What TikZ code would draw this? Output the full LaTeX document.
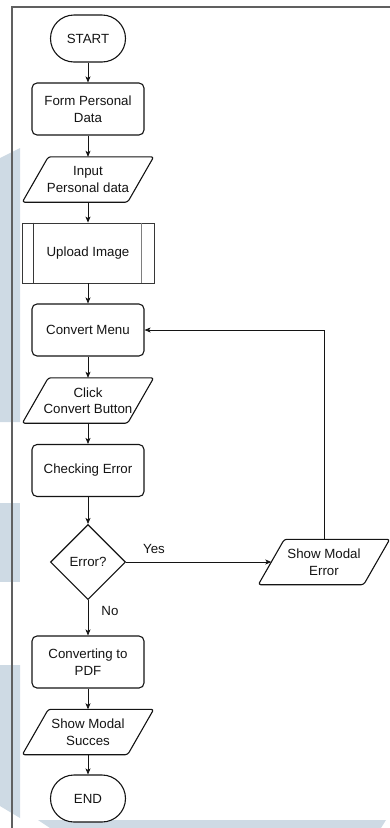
\documentclass[tikz,border=0pt]{standalone}
\usepackage{fontspec}
\setmainfont{Liberation Sans}
\usetikzlibrary{shapes.geometric,arrows.meta,calc}
\definecolor{wmblue}{RGB}{206,218,228}
\definecolor{framegray}{RGB}{96,96,96}
\definecolor{inkblack}{RGB}{20,20,20}
\newcommand\iodraw[1]{%
  \draw[ioline] ($(#1.north west)+(26,0)$) -- (#1.north east)
    -- ($(#1.south east)+(-26,0)$) -- (#1.south west) -- cycle;}
\begin{document}
\begin{tikzpicture}[x=1pt,y=-1pt,
  font=\fontsize{13.3}{16.5}\selectfont,
  every node/.style={align=center, inner sep=2pt, text=inkblack},
  base/.style={draw=inkblack, line width=1.1pt, fill=white},
  terminal/.style={base, rectangle, rounded corners=23.5pt, minimum width=75pt, minimum height=47pt},
  process/.style={base, rectangle, rounded corners=5pt, minimum width=112pt, minimum height=52pt},
  subproc/.style={base, line width=0.8pt, draw=inkblack!85, rectangle, minimum width=132pt, minimum height=60pt},
  iobox/.style={rectangle, minimum width=131pt, minimum height=45pt},
  ioline/.style={draw=inkblack, line width=1.1pt, fill=white, rounded corners=2.5pt},
  decision/.style={base, diamond, aspect=1, minimum size=75pt, inner sep=0pt},
  flow/.style={draw=inkblack, line width=0.8pt, -{Stealth[length=6pt,width=5pt,inset=1.5pt]}},
  lbl/.style={inner sep=0pt},
  wm/.style={fill=wmblue},
  frameline/.style={draw=framegray, line width=1.4pt},
]
\useasboundingbox (0,0) rectangle (390,828);

% faint background band
\fill[wm] (0,158) -- (20,148) -- (20,422) -- (0,422) -- cycle;
\fill[wm] (0,503) rectangle (20,582);
\fill[wm] (0,665) -- (20,665) -- (20,818) -- (0,806) -- cycle;
\fill[wm] (38,820) -- (386,820) -- (381,828) -- (50,828) -- cycle;

% page frame
\draw[frameline] (12,828) -- (12,7) -- (390,7);

% main column
\node[terminal] (start) at (88,38.5) {START};
\node[process] (form) at (88,109) {Form Personal\\Data};
\node[iobox] (input) at (88,179.5) {};
\node[subproc] (upload) at (88,253) {Upload Image};
\node[process] (menu) at (88,330) {Convert Menu};
\node[iobox] (click) at (88,400.5) {};
\node[process] (check) at (88,470.5) {Checking Error};
\node[decision] (err) at (88,562) {Error?};
\node[iobox] (modalerr) at (324,562) {};
\node[process] (pdf) at (88,662) {Converting to\\PDF};
\node[iobox] (ok) at (88,732) {};
\node[terminal] (end) at (88,798.5) {END};

% parallelogram outlines and their texts
\iodraw{input}
\iodraw{click}
\iodraw{modalerr}
\iodraw{ok}
\node (inputtxt) at (input) {Input\\Personal data};
\node (clicktxt) at (click) {Click\\Convert Button};
\node (modalerrtxt) at (modalerr) {Show Modal\\Error};
\node (oktxt) at (ok) {Show Modal\\Succes};

% subroutine side bars
\draw[draw=inkblack!85, line width=0.8pt] ([xshift=12pt]upload.north west) -- ([xshift=12pt]upload.south west);
\draw[draw=inkblack!55, line width=0.8pt] ([xshift=-13pt]upload.north east) -- ([xshift=-13pt]upload.south east);

% connectors
\draw[flow] (start) -- (form);
\draw[flow] (form) -- (input);
\draw[flow] (input) -- (upload);
\draw[flow] (upload) -- (menu);
\draw[flow] (menu) -- (click);
\draw[flow] (click) -- (check);
\draw[flow] (check) -- (err);
\draw[flow] (err.south) -- (pdf.north);
\draw[flow] (pdf) -- (ok);
\draw[flow] (ok) -- (end);
\draw[flow] (err.east) -- ($(modalerr.west)+(13,0)$);
\draw[flow] (modalerr.north) -- (modalerr.north |- menu.east) -- (menu.east);

% branch labels
\node[lbl] (yes) at (154,549) {Yes};
\node[lbl] (no) at (110,611) {No};
\end{tikzpicture}
\end{document}
